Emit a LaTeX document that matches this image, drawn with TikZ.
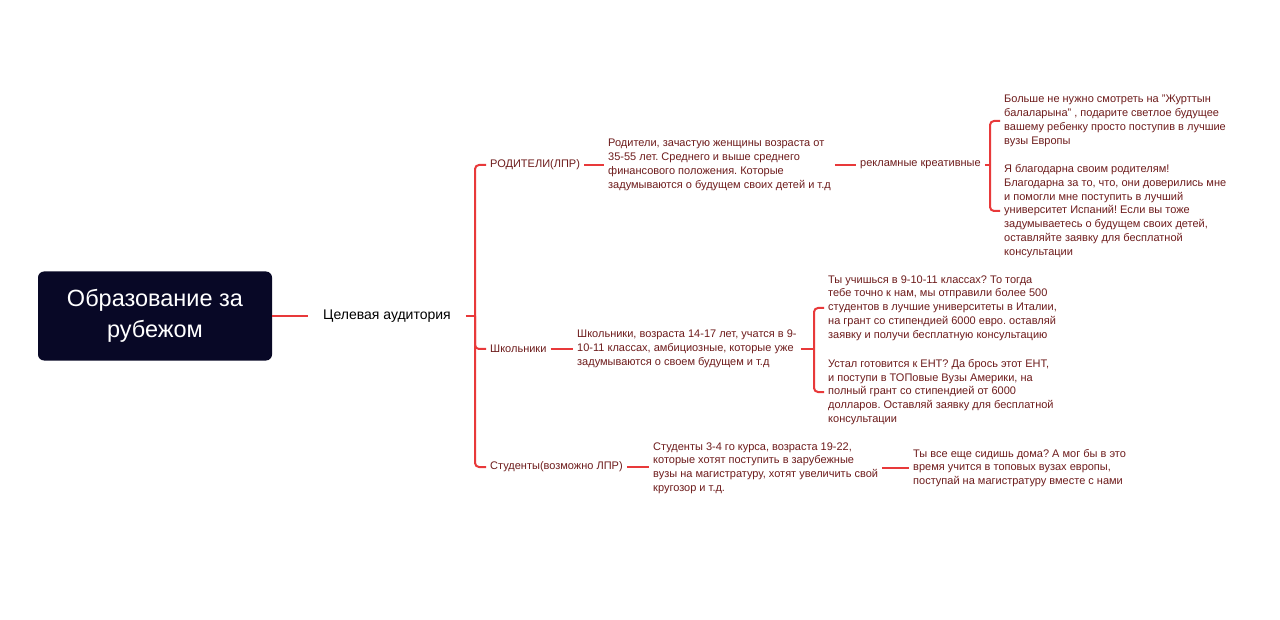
\documentclass[tikz,border=0pt]{standalone}
\usepackage{fontspec}
\setmainfont{Liberation Sans}
\frenchspacing
\definecolor{linered}{RGB}{232,57,58}
\definecolor{txtred}{RGB}{110,28,28}
\definecolor{navy}{RGB}{8,8,38}
\begin{document}
\frenchspacing
\begin{tikzpicture}[x=1pt,y=-1pt,
  lbl/.style={font=\fontsize{11}{13.8}\selectfont, text=txtred, inner xsep=4pt, inner ysep=0pt, anchor=west, align=left},
  conn/.style={draw=linered, line width=2pt},
  brace/.style={conn, rounded corners=4pt}]
\fill[white] (0,0) rectangle (1280,620);
\useasboundingbox (0,0) rectangle (1280,620);

\node[fill=navy, rounded corners=6pt, minimum width=234pt, minimum height=89pt, text=white,
      font=\fontsize{23.5}{31}\selectfont, align=center] (root) at (155,316) {Образование за\\рубежом};
\node[anchor=west, inner xsep=15pt, inner ysep=0pt, font=\fontsize{14}{16}\selectfont, text=black] (ca) at (308,316) {Целевая аудитория};

\node[lbl] (par) at (486,165) {РОДИТЕЛИ(ЛПР)};
\node[lbl] (sch) at (486,349) {Школьники};
\node[lbl] (stu) at (486,467) {Студенты(возможно ЛПР)};

\node[lbl] (parD) at (604,165) {Родители, зачастую женщины возраста от\\35-55 лет. Среднего и выше среднего\\финансового положения. Которые\\задумываются о будущем своих детей и т.д};
\node[lbl] (rk) at (856,165) {рекламные креативные};
\node[lbl] (ad1) at (1000,121) {Больше не нужно смотреть на "Журттын\\балаларына" , подарите светлое будущее\\вашему ребенку просто поступив в лучшие\\вузы Европы};
\node[lbl] (ad2) at (1000,211) {Я благодарна своим родителям!\\Благодарна за то, что, они доверились мне\\и помогли мне поступить в лучший\\университет Испаний! Если вы тоже\\задумываетесь о будущем своих детей,\\оставляйте заявку для бесплатной\\консультации};

\node[lbl] (schD) at (573,349) {Школьники, возраста 14-17 лет, учатся в 9-\\10-11 классах, амбициозные, которые уже\\задумываются о своем будущем и т.д};
\node[lbl] (sc1) at (824,308) {Ты учишься в 9-10-11 классах? То тогда\\тебе точно к нам, мы отправили более 500\\студентов в лучшие университеты в Италии,\\на грант со стипендией 6000 евро. оставляй\\заявку и получи бесплатную консультацию};
\node[lbl] (sc2) at (824,392) {Устал готовится к ЕНТ? Да брось этот ЕНТ,\\и поступи в ТОПовые Вузы Америки, на\\полный грант со стипендией от 6000\\долларов. Оставляй заявку для бесплатной\\консультации};

\node[lbl] (stuD) at (649,468) {Студенты 3-4 го курса, возраста 19-22,\\которые хотят поступить в зарубежные\\вузы на магистратуру, хотят увеличить свой\\кругозор и т.д.};
\node[lbl] (stu1) at (909,468) {Ты все еще сидишь дома? А мог бы в это\\время учится в топовых вузах европы,\\поступай на магистратуру вместе с нами};

\coordinate (J1) at (475,316);
\coordinate (J2) at (990,165);
\coordinate (J3) at (814,349);

\draw[conn] (root.east) -- (root.east -| ca.west);
\draw[conn] (ca.east) -- (J1);
\draw[brace] (par.west) -| (J1) |- (stu.west);
\draw[brace] (sch.west) -| (J1);

\draw[conn] (par.east) -- (par.east -| parD.west);
\draw[conn] (rk.west -| parD.east) -- (rk.west);
\draw[conn] (rk.east) -- (J2);
\draw[brace] (ad1.west) -| (J2) |- (ad2.west);

\draw[conn] (sch.east) -- (sch.east -| schD.west);
\draw[conn] (schD.east) -- (J3);
\draw[brace] (sc1.west) -| (J3) |- (sc2.west);

\draw[conn] (stu.east) -- (stu.east -| stuD.west);
\draw[conn] (stuD.east) -- (stuD.east -| stu1.west);
\end{tikzpicture}
\end{document}
